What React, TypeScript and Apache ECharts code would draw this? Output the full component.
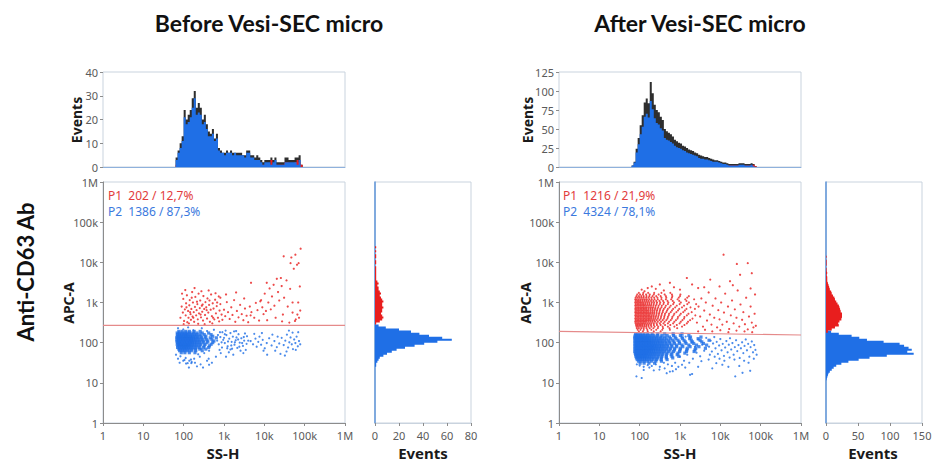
import React, { useEffect, useRef } from "react";
import * as echarts from "echarts";

// ---------- axis labels ----------
const DECADE_LABELS = ["1", "10", "100", "1k", "10k", "100k", "1M"];
const BIN = 0.05; // histogram bin width in decades
const N_BINS = 120; // 0 .. 6 decades

// ---------- top histograms (SS-H), counts per bin, first bin starts at log10 = 1.80 ----------
const TOP_START = 1.8;
const TOP_BEFORE_TOTAL = [4,7,10,13,24,20,22,24,29,32,25,27,25,20,22,18,15,14,16,12,14,8,7,6,6,7,6,7,6,6,6,6,6,5,5,7,7,5,5,4,5,4,3,2,3,3,3,4,3,4,2,2,2,2,4,4,3,3,3,4,4,5,1];
const TOP_BEFORE_P1 = [1,1,2,2,3,2,3,3,4,3,3,4,3,2,3,2,2,1,2,1,2,1,1,0,1,1,0,1,1,0,1,1,1,0,1,1,1,1,1,1,2,1,1,1,1,1,1,3,1,1,1,1,1,1,2,2,1,1,1,2,3,2,1];
const TOP_AFTER_TOTAL = [2,7,24,38,55,68,85,90,84,112,97,82,75,72,66,62,50,47,45,43,40,36,34,32,31,28,27,25,23,22,21,19,18,16,15,14,13,13,12,11,10,9,9,8,7,6,6,5,4,4,4,4,4,5,5,5,4,4,4,5,4,1,0];
const TOP_AFTER_P1 = [0,1,5,8,12,15,19,20,19,25,21,18,17,16,15,14,12,11,10,10,9,8,8,7,7,6,6,6,5,5,5,4,4,4,4,3,3,3,3,3,3,2,2,2,2,2,2,2,2,2,2,2,2,2,2,2,2,2,2,2,3,1,0];

// ---------- side histograms (APC-A), counts per bin, ascending ----------
const SIDE_BEFORE_P1_START = 2.45;
const SIDE_BEFORE_P1 = [1,4,6,7,6,5,6,6,7,6,6,7,6,5,4,5,4,3,3,2,3,2,1,1,1,1,1,1,1,0,1,1,0,1,1,0,1,0,1];
const SIDE_BEFORE_P2_START = 1.4;
const SIDE_BEFORE_P2 = [1,1,2,3,4,7,10,14,18,25,33,41,52,64,56,45,37,30,20,9,3];
const SIDE_AFTER_P1_START = 2.25;
const SIDE_AFTER_P1 = [3,9,14,20,19,21,24,25,25,25,23,22,21,20,18,16,14,13,11,9,8,6,5,4,3,2,2,2,1,2,1,1,0,1,1,1,0,1];
const SIDE_AFTER_P2_START = 1.05;
const SIDE_AFTER_P2 = [1,2,3,4,6,9,12,16,24,35,51,68,95,137,127,134,129,122,115,90,64,52,40,20,8];

// ---------- gates (APC-A value at SS-H = 1 and at SS-H = 1M) ----------
const GATE_BEFORE = [268, 268];
const GATE_AFTER = [190, 155];

// ---------- population stats ----------
const STATS_BEFORE = ["P1  202 / 12,7%", "P2  1386 / 87,3%"];
const STATS_AFTER = ["P1  1216 / 21,9%", "P2  4324 / 78,1%"];

// ---------- scatter events, in log10(value) x 100 ; rows are "APC:SS SS SS ..." ----------
const BEFORE_P2_ROWS = [
  "228:188 196 205 214 226 241",
  "224:184 190 197 203 209 216 224 233 246 262",
  "220:185 189 194 199 204 208 213 219 226 232 240 251 268",
  "216:184 188 192 196 200 204 208 212 217 222 228 235 243 255 272",
  "212:183 187 191 195 199 203 207 211 215 219 224 230 236 244 253 266 281",
  "208:184 188 192 196 200 204 208 212 216 220 225 231 238 246 257 270",
  "204:183 187 191 195 199 203 207 211 215 219 223 228 234 241 249 260 275",
  "200:185 189 193 197 201 205 209 213 217 221 226 232 239 248 258 272",
  "196:184 188 192 196 200 204 208 212 216 221 227 234 242 253 268",
  "192:186 190 194 198 202 206 210 214 219 225 232 240 251 264",
  "188:185 190 195 199 203 207 212 217 223 230 238 249 262",
  "184:188 193 198 203 208 214 221 229 240 255",
  "180:190 197 204 211 219 230 246",
  "175:194 203 214 228",
];
const BEFORE_P2_SPARSE = [
  [186,236],[199,233],[211,238],[224,231],[245,236],[258,229],[275,232],[290,226],[302,221],[181,170],[192,166],[205,162],[218,158],[199,155],[236,171],[251,174],[263,180],[240,165],[210,149],[186,160],[228,150],[262,160],[243,185],
  [283,205],[287,196],[291,214],[295,188],[298,207],[302,199],[306,219],[309,191],[313,210],[316,183],[319,202],[322,215],[326,195],[329,206],[333,187],[336,221],[339,200],[343,211],[347,192],[350,205],[354,182],[357,216],[296,226],[312,176],[325,228],[341,180],[289,182],[304,230],[318,193],[331,213],[345,199],[352,223],[360,205],[300,212],[310,203],[320,185],[335,208],[349,214],[285,219],[294,201],[308,186],[327,201],[338,190],[356,197],[323,170],[305,165],[348,174],[316,224],[330,229],[292,174],
  [366,204],[372,196],[378,210],[381,190],[385,202],[388,215],[392,195],[396,207],[401,186],[406,199],[412,211],[418,193],[425,204],[431,189],[437,198],[443,212],[448,194],[452,205],[456,220],[459,188],[462,201],[465,213],[468,196],[471,184],[474,208],[477,199],[480,215],[483,191],[486,204],[489,196],[470,225],[455,178],[440,172],[420,220],[398,180],[375,222],[407,170],[433,215],[461,230],[478,182],[484,226],[394,224],[427,180],[451,168],
  [206,148],[220,152],[233,141],[242,146],[258,155],[270,150],[190,150],[213,138],[226,160],[248,138],[280,165],[214,155],[202,157],[263,145],[219,149],
];
const BEFORE_P1_ROWS: string[] = [];
const BEFORE_P1_SPARSE = [
  [192,262],[195,290],[198,275],[199,309],[201,254],[203,283],[205,268],[206,298],[208,318],[209,251],[211,279],[212,262],[214,293],[215,306],[217,271],[218,257],[219,284],[221,326],[222,265],[223,300],[225,276],[226,252],[228,289],[229,314],[231,268],[232,281],[234,296],[235,258],[237,322],[238,273],[240,286],[241,305],[243,263],[245,292],[246,277],[248,255],[249,316],[251,284],[253,269],[254,301],[256,288],[258,260],[259,310],[261,275],[263,294],[265,252],[267,282],[268,320],[270,266],[272,298],[274,285],[276,258],[278,307],[280,273],[282,291],[285,262],[287,315],[289,280],[291,296],[294,270],
  [196,322],[200,246],[204,331],[213,248],[220,312],[227,336],[236,247],[244,328],[252,246],[262,330],[271,248],[279,323],[288,253],[207,288],[216,276],[224,262],[233,302],[242,270],[247,295],[257,281],[264,305],[273,262],[283,300],
  [296,257],[300,282],[303,266],[307,301],[310,276],[314,259],[318,288],[321,269],[325,306],[328,252],[332,279],[336,263],[340,294],[344,271],[348,256],[352,285],[356,267],[360,251],[364,290],[368,276],[367,349],[375,262],[379,299],[383,281],[387,255],[291,312],[305,320],[330,325],[350,310],[366,268],
  [392,306],[395,288],[398,271],[401,322],[404,279],[407,256],[410,300],[413,335],[416,283],[419,315],[423,344],[425,292],[428,262],[431,359],[434,326],[437,305],[441,361],[443,341],[446,270],[449,312],[448,415],[455,355],[458,290],[465,398],[464,334],[467,412],[470,300],[473,384],[476,254],[481,394],[482,270],[485,398],[488,340],[490,434],[478,258],[486,262],[462,250],[444,253],[477,419],[390,303],[406,349],[470,275],[489,280],[484,300],
];

const AFTER_P2_ROWS = [
  "222:190 196 203 211 220 231 245 262 283 305",
  "218:189 193 198 203 208 214 220 227 235 244 255 268 284 301 322",
  "214:188 192 196 200 204 208 213 218 223 229 236 243 252 262 274 288 305 326 352",
  "210:188 192 196 200 204 208 212 216 220 225 230 236 242 249 257 266 277 290 306 324 345",
  "206:189 193 197 201 205 209 213 217 221 225 230 235 241 247 254 262 271 282 295 310 328 350 372",
  "202:188 192 196 200 204 208 212 216 220 224 228 233 238 244 250 257 265 274 285 298 313 331 354",
  "198:189 193 197 201 205 209 213 217 221 225 229 234 239 245 251 258 266 275 286 299 315 334 358",
  "194:188 192 196 200 204 208 212 216 220 224 228 232 237 242 248 254 261 269 279 291 305 322 341 366",
  "190:189 193 197 201 205 209 213 217 221 225 229 233 238 243 249 255 262 270 280 292 307 325 347",
  "186:188 192 196 200 204 208 212 216 220 224 228 232 236 241 246 252 259 267 276 287 301 318 339 363",
  "182:189 193 197 201 205 209 213 217 221 225 229 234 239 245 251 258 266 275 286 300 317 337",
  "178:188 192 196 200 204 208 212 216 220 224 229 234 240 247 254 262 272 284 299 316 335",
  "174:189 193 197 201 205 209 213 217 221 226 231 237 243 250 258 268 280 295 312",
  "170:190 194 198 202 206 210 214 218 223 228 234 241 248 256 266 278 293",
  "166:191 195 199 203 207 211 215 220 225 231 238 246 255 266 280 297",
  "162:192 197 202 207 212 217 223 229 236 244 254 266 282",
  "158:194 200 206 212 218 225 233 242 253 268",
  "154:197 204 212 220 229 240 254",
  "149:201 211 223 237",
];
const AFTER_P2_SPARSE = [
  [372,190],[376,205],[379,178],[382,198],[385,214],[388,186],[391,202],[394,172],[397,193],[400,209],[403,181],[406,197],[409,167],[412,188],[415,204],[418,176],[421,195],[424,211],[427,183],[430,199],[433,170],[436,189],[439,206],[442,179],[445,194],[448,162],[451,186],[454,201],[457,174],[460,192],[463,208],[466,181],[469,197],[472,165],[475,189],[478,203],[481,176],[484,194],[487,182],[490,170],[483,160],[470,150],[459,155],[447,142],[435,158],[423,163],[410,155],[398,160],[386,165],[374,170],
  [365,212],[360,180],[355,195],[350,166],[345,208],[341,175],[337,190],[332,160],[328,200],[323,150],[318,170],[314,215],[310,155],[305,145],[300,165],[296,140],[288,150],[280,142],[270,146],[260,150],[250,140],[240,146],[230,142],[220,144],[210,140],[200,143],[193,146],
  [192,116],[205,112],[210,132],[224,138],[235,131],[249,133],[262,136],[275,128],[290,134],[313,138],[330,122],[345,140],[380,136],[420,140],[437,116],[474,130],[455,125],[390,149],[353,154],[371,158],[405,145],[267,124],[325,120],[282,129],
];
const AFTER_P1_ROWS = [
  "324:198 209 221 236 254 276",
  "320:194 201 208 216 225 235 247 262 280 301",
  "316:192 198 204 210 217 224 232 241 252 265 281 300 322",
  "312:190 195 200 205 210 216 222 229 236 244 254 266 280 297 318",
  "308:189 193 198 203 208 213 218 224 230 237 245 254 265 278 294 313 335",
  "304:190 194 198 202 207 212 217 222 228 234 241 249 258 269 282 298 316",
  "300:189 193 197 201 205 209 214 219 224 230 236 243 251 260 271 285 302 322",
  "296:190 194 198 202 206 210 214 219 224 229 235 242 250 259 270 283 299 318 340",
  "292:189 193 197 201 205 209 213 218 223 228 234 240 247 255 265 277 292 310",
  "288:190 194 198 202 206 210 214 218 223 228 233 239 246 254 263 274 288 305 326",
  "284:189 193 197 201 205 209 213 217 222 227 232 238 244 251 260 270 283 298 316 337",
  "280:190 194 198 202 206 210 214 218 222 227 232 237 243 250 258 268 280 295 312",
  "276:189 193 197 201 205 209 213 217 221 226 231 236 242 249 257 266 277 291 308 329",
  "272:190 194 198 202 206 210 214 218 222 226 231 236 242 248 255 263 273 286 302 321",
  "268:189 193 197 201 205 209 213 217 221 225 230 235 241 247 254 262 272 284 299 317 338",
  "264:190 194 198 202 206 210 214 218 222 226 230 235 240 246 253 261 270 281 295 311",
  "260:189 193 197 201 205 209 213 217 221 225 229 234 239 245 252 260 269 280 294 310 331",
  "256:190 194 198 202 206 210 214 218 222 226 231 236 242 249 257 266 277 290 306 325",
  "252:189 193 197 201 205 209 213 217 222 227 232 238 245 253 262 273 286 302 320",
  "248:190 194 198 202 206 210 214 219 224 229 235 242 250 259 270 283 299 317",
  "244:191 195 199 203 207 212 217 222 228 235 243 252 263 276 292 311",
  "240:192 196 201 206 211 216 222 229 237 246 257 270 286 305",
  "236:193 198 204 210 217 225 234 245 258 274 293",
  "232:195 202 210 219 229 241 256 275",
  "228:198 208 220 235 252",
];
const AFTER_P1_SPARSE = [
  [342,250],[346,290],[350,265],[353,310],[357,240],[360,280],[364,300],[367,255],[371,325],[374,270],[378,245],[381,292],[385,262],[388,310],[392,238],[395,281],[398,258],[402,300],[405,245],[409,275],[412,322],[416,252],[419,290],[422,234],[426,268],[429,305],[433,248],[436,283],[440,262],[443,330],[447,240],[450,295],[454,257],[457,276],[461,246],[464,312],[468,233],[471,265],[475,290],[478,250],[482,238],[485,272],[488,242],[479,226],[460,228],[440,230],[420,226],[400,231],[380,228],[362,232],[345,228],
  [408,419],[441,396],[468,398],[449,369],[478,373],[424,353],[375,357],[317,361],[360,338],[398,340],[475,335],[486,320],[431,343],
  [205,332],[220,336],[240,334],[260,330],[230,340],[285,338],[300,332],[250,345],[275,349],[212,328],[330,345],[345,336],
];

// ---------- colours ----------
const BLUE = "#1f6fe6";
const RED = "#e81e1e";
const DARK = "#2e2e2e";
const BOX = "#c9d3de";
const AXIS = "#8c8c8c";
const TICK_TEXT = "#5a5a5a";
const FONT = "'Noto Sans', 'Open Sans', sans-serif";

const BIN_LABELS = Array.from({ length: N_BINS }, (_, i) => (i * BIN).toFixed(2));

function fullBins(start: number, counts: number[]): number[] {
  const arr = new Array(N_BINS).fill(0);
  const s = Math.round(start / BIN);
  counts.forEach((c, i) => {
    if (s + i < N_BINS) arr[s + i] = c;
  });
  return arr;
}
function parseRows(rows: string[]): number[][] {
  const out: number[][] = [];
  rows.forEach((r) => {
    const [ys, xs] = r.split(":");
    const y = Number(ys) / 100;
    xs.trim().split(/\s+/).forEach((x) => out.push([Number(x) / 100, y]));
  });
  return out;
}
const toLog = (pts: number[][]) => pts.map(([x, y]) => [x / 100, y / 100]);

type Panel = {
  left: number;
  sideLeft: number;
  topMax: number;
  topInterval: number;
  sideMax: number;
  sideInterval: number;
  topTotal: number[];
  topP1: number[];
  sideP1Start: number;
  sideP1: number[];
  sideP2Start: number;
  sideP2: number[];
  p2Rows: string[];
  p2Sparse: number[][];
  p1Rows: string[];
  p1Sparse: number[][];
  gate: number[];
};

const PANELS: Panel[] = [
  {
    left: 103, sideLeft: 375, topMax: 40, topInterval: 10, sideMax: 80, sideInterval: 20,
    topTotal: TOP_BEFORE_TOTAL, topP1: TOP_BEFORE_P1,
    sideP1Start: SIDE_BEFORE_P1_START, sideP1: SIDE_BEFORE_P1,
    sideP2Start: SIDE_BEFORE_P2_START, sideP2: SIDE_BEFORE_P2,
    p2Rows: BEFORE_P2_ROWS, p2Sparse: BEFORE_P2_SPARSE, p1Rows: BEFORE_P1_ROWS, p1Sparse: BEFORE_P1_SPARSE,
    gate: GATE_BEFORE,
  },
  {
    left: 559, sideLeft: 826, topMax: 125, topInterval: 25, sideMax: 150, sideInterval: 50,
    topTotal: TOP_AFTER_TOTAL, topP1: TOP_AFTER_P1,
    sideP1Start: SIDE_AFTER_P1_START, sideP1: SIDE_AFTER_P1,
    sideP2Start: SIDE_AFTER_P2_START, sideP2: SIDE_AFTER_P2,
    p2Rows: AFTER_P2_ROWS, p2Sparse: AFTER_P2_SPARSE, p1Rows: AFTER_P1_ROWS, p1Sparse: AFTER_P1_SPARSE,
    gate: GATE_AFTER,
  },
];

function buildOption() {
  const grid: any[] = [];
  const xAxis: any[] = [];
  const yAxis: any[] = [];
  const series: any[] = [];
  const tickLabel = { color: TICK_TEXT, fontSize: 11, fontFamily: FONT };

  // histogram drawn as a filled step outline (one polygon, no seams between bins)
  const stepArea = (xi: number, yi: number, data: number[], color: string) => ({
    type: "line", xAxisIndex: xi, yAxisIndex: yi, data, step: "middle", symbol: "none", silent: true,
    lineStyle: { width: 0, color }, areaStyle: { color, opacity: 1 },
  });

  PANELS.forEach((p, k) => {
    const b = k * 3;
    grid.push(
      { left: p.left, top: 72, width: 242, height: 95, show: true, borderColor: BOX, borderWidth: 1, backgroundColor: "#fff" },
      { left: p.left, top: 182, width: 242, height: 241, show: true, borderColor: BOX, borderWidth: 1, backgroundColor: "#fff" },
      { left: p.sideLeft, top: 182, width: 96, height: 241, show: true, borderColor: BOX, borderWidth: 1, backgroundColor: "#fff" }
    );
    // top histogram
    xAxis.push({
      gridIndex: b, type: "category", data: BIN_LABELS, boundaryGap: true,
      axisLabel: { show: false }, axisTick: { show: false },
      axisLine: { show: true, lineStyle: { color: "#8fb1dc", width: 1 } },
    });
    yAxis.push({
      gridIndex: b, type: "value", min: 0, max: p.topMax, interval: p.topInterval,
      axisLabel: { ...tickLabel, margin: 5 }, axisTick: { show: true, length: 3, lineStyle: { color: AXIS } },
      axisLine: { show: false }, splitLine: { show: false },
    });
    // scatter
    xAxis.push({
      gridIndex: b + 1, type: "value", min: 0, max: 6, interval: 1,
      axisLabel: { ...tickLabel, margin: 7, formatter: (v: number) => DECADE_LABELS[Math.round(v)] },
      axisTick: { show: true, length: 3, lineStyle: { color: AXIS } },
      axisLine: { show: true, onZero: false, lineStyle: { color: AXIS } }, splitLine: { show: false },
    });
    yAxis.push({
      gridIndex: b + 1, type: "value", min: 0, max: 6, interval: 1,
      axisLabel: { ...tickLabel, margin: 5, formatter: (v: number) => DECADE_LABELS[Math.round(v)] },
      axisTick: { show: true, length: 3, lineStyle: { color: AXIS } },
      axisLine: { show: true, onZero: false, lineStyle: { color: AXIS } }, splitLine: { show: false },
    });
    // side histogram
    xAxis.push({
      gridIndex: b + 2, type: "value", min: 0, max: p.sideMax, interval: p.sideInterval,
      axisLabel: { ...tickLabel, margin: 7 },
      axisTick: { show: true, length: 3, lineStyle: { color: AXIS } },
      axisLine: { show: true, onZero: false, lineStyle: { color: BOX } }, splitLine: { show: false },
    });
    yAxis.push({
      gridIndex: b + 2, type: "category", data: BIN_LABELS, boundaryGap: true,
      axisLabel: { show: false }, axisTick: { show: false },
      axisLine: { show: true, lineStyle: { color: "#5f94d8", width: 1.5 } },
    });

    const total = fullBins(TOP_START, p.topTotal);
    const p1 = fullBins(TOP_START, p.topP1);
    const p2 = total.map((t, i) => Math.max(0, t - p1[i]));
    series.push(
      stepArea(b, b, total, DARK),
      stepArea(b, b, p1, RED),
      stepArea(b, b, p2, BLUE)
    );

    const scatterCommon = { type: "scatter", xAxisIndex: b + 1, yAxisIndex: b + 1, silent: true };
    series.push(
      { ...scatterCommon, data: parseRows(p.p2Rows), symbol: "rect", symbolSize: 3.2, itemStyle: { color: BLUE } },
      { ...scatterCommon, data: toLog(p.p2Sparse), symbolSize: 2.2, itemStyle: { color: BLUE } },
      { ...scatterCommon, data: parseRows(p.p1Rows), symbolSize: 2.1, itemStyle: { color: RED } },
      { ...scatterCommon, data: toLog(p.p1Sparse), symbolSize: 2.2, itemStyle: { color: RED } },
      {
        type: "line", xAxisIndex: b + 1, yAxisIndex: b + 1, silent: true, symbol: "none",
        data: [[0, Math.log10(p.gate[0])], [6, Math.log10(p.gate[1])]],
        lineStyle: { color: "#e58a8a", width: 1.2 },
      }
    );

    series.push(
      stepArea(b + 2, b + 2, fullBins(p.sideP2Start, p.sideP2), BLUE),
      stepArea(b + 2, b + 2, fullBins(p.sideP1Start, p.sideP1), RED)
    );
  });

  const txt = (text: string, x: number, y: number, size: number, color: string, opts: any = {}) => ({
    type: "text", x, y, rotation: opts.rotation || 0, silent: true,
    style: {
      text, fill: color,
      font: `${opts.weight || "bold"} ${size}px ${opts.family || FONT}`,
      textAlign: opts.align || "center", align: opts.align || "center",
      textVerticalAlign: "middle", verticalAlign: "middle",
    },
  });
  const TITLE_FONT = "Lato, 'Open Sans', sans-serif";
  const graphic = [
    txt("Before Vesi-SEC micro", 269, 23, 23, "#111", { family: TITLE_FONT }),
    txt("After Vesi-SEC micro", 700, 23, 23, "#111", { family: TITLE_FONT }),
    txt("Anti-CD63 Ab", 25, 272, 22, "#111", { family: TITLE_FONT, rotation: Math.PI / 2 }),
    txt("Events", 76, 120, 14, "#1a1a1a", { rotation: Math.PI / 2 }),
    txt("APC-A", 68, 303, 14, "#1a1a1a", { rotation: Math.PI / 2 }),
    txt("SS-H", 223, 453, 15, "#1a1a1a"),
    txt("Events", 423, 453, 15, "#1a1a1a"),
    txt("Events", 527, 120, 14, "#1a1a1a", { rotation: Math.PI / 2 }),
    txt("APC-A", 525, 303, 14, "#1a1a1a", { rotation: Math.PI / 2 }),
    txt("SS-H", 680, 453, 15, "#1a1a1a"),
    txt("Events", 873, 453, 15, "#1a1a1a"),
    txt(STATS_BEFORE[0], 108, 195, 12, "#e23c3c", { align: "left", weight: "normal" }),
    txt(STATS_BEFORE[1], 108, 211, 12, "#3b79de", { align: "left", weight: "normal" }),
    txt(STATS_AFTER[0], 563, 195, 12, "#e23c3c", { align: "left", weight: "normal" }),
    txt(STATS_AFTER[1], 563, 211, 12, "#3b79de", { align: "left", weight: "normal" }),
  ];

  return { animation: false, backgroundColor: "#fff", grid, xAxis, yAxis, series, graphic };
}

export default function App() {
  const ref = useRef<HTMLDivElement>(null);
  useEffect(() => {
    if (!ref.current) return;
    const chart = echarts.init(ref.current, undefined, { renderer: "svg" });
    chart.setOption(buildOption() as any);
    return () => chart.dispose();
  }, []);
  return (
    <div
      ref={ref}
      style={{ position: "absolute", left: 0, top: 0, width: 947, height: 468, background: "#fff" }}
    />
  );
}
